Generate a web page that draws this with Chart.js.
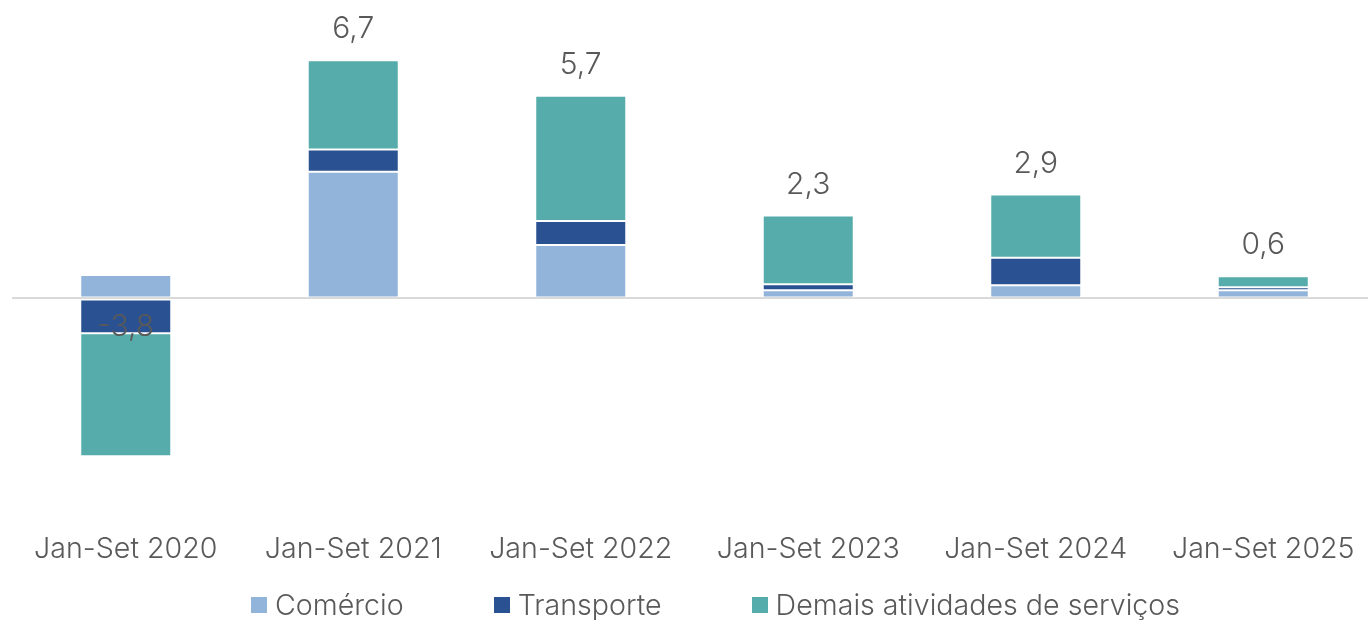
<!DOCTYPE html>
<html lang="pt">
<head>
<meta charset="utf-8">
<script src="https://cdn.jsdelivr.net/npm/chart.js@4.4.1/dist/chart.umd.min.js"></script>
<style>
    html, body { margin: 0; padding: 0; background: #fff; overflow: hidden; }
    body { width: 1368px; height: 620px; position: relative; font-family: Inter, "Noto Sans", sans-serif; }
    #wrap { position: absolute; left: 0; top: 0; width: 1377px; height: 588px; }
    #legend { position: absolute; left: 251px; top: 588px; display: flex; align-items: center; color: #595959; font-size: 28.6px; font-weight: 300; line-height: 34px; }
    .item { display: flex; align-items: center; margin-right: 90px; }
    .item:last-child { margin-right: 0; }
    .box { width: 16px; height: 16px; margin-right: 8px; }
</style>
</head>
<body>
<div id="wrap"><canvas id="chart"></canvas></div>
<div id="legend"></div>
<script>
// Dados (variação, p.p.)
const categories = ['Jan-Set 2020', 'Jan-Set 2021', 'Jan-Set 2022', 'Jan-Set 2023', 'Jan-Set 2024', 'Jan-Set 2025'];
const comercio = [0.66, 3.56, 1.50, 0.23, 0.37, 0.23];
const transporte = [-0.98, 0.63, 0.68, 0.17, 0.77, 0.08];
const demais = [-3.46, 2.51, 3.52, 1.93, 1.78, 0.31];

const seriesNames = ['Comércio', 'Transporte', 'Demais atividades de serviços'];
const seriesColors = ['#93b4da', '#2a5192', '#55acaa'];
const textColor = '#595959';
const fontFamily = 'Inter, "Noto Sans", sans-serif';

// Total labels above each stack
const totalsPlugin = {
    id: 'totals',
    afterDatasetsDraw(chart) {
        const ctx = chart.ctx;
        const y = chart.scales.y;
        ctx.save();
        ctx.font = '300 30px ' + fontFamily;
        ctx.fillStyle = textColor;
        ctx.textAlign = 'center';
        ctx.textBaseline = 'alphabetic';
        categories.forEach((c, i) => {
            const total = comercio[i] + transporte[i] + demais[i];
            const bar = chart.getDatasetMeta(0).data[i];
            let top = y.getPixelForValue(0);
            chart.data.datasets.forEach((ds, d) => {
                const el = chart.getDatasetMeta(d).data[i];
                top = Math.min(top, el.y, el.base);
            });
            const txt = total.toFixed(1).replace('.', ',');
            if (total >= 0) {
                ctx.fillText(txt, bar.x, top - 22);
            } else {
                ctx.fillText(txt, bar.x, y.getPixelForValue(0) + 38);
            }
        });
        ctx.restore();
    }
};

const ctx = document.getElementById('chart').getContext('2d');
new Chart(ctx, {
    type: 'bar',
    data: {
        labels: categories,
        datasets: [comercio, transporte, demais].map((d, k) => ({
            label: seriesNames[k],
            data: d,
            backgroundColor: seriesColors[k],
            borderColor: 'rgba(255,255,255,0.35)',
            borderWidth: 1,
            borderSkipped: false,
            barPercentage: 0.4,
            categoryPercentage: 1
        }))
    },
    options: {
        responsive: true,
        maintainAspectRatio: false,
        animation: false,
        layout: { padding: { left: 12, top: 14, right: 0, bottom: 0 } },
        plugins: {
            legend: { display: false },
            tooltip: { enabled: false }
        },
        scales: {
            x: {
                stacked: true,
                grid: { display: false, drawTicks: false },
                border: { display: false },
                ticks: { color: textColor, padding: 21, font: { family: fontFamily, size: 28.6, weight: 300 } }
            },
            y: {
                stacked: true,
                min: -6,
                max: 8,
                grid: {
                    drawTicks: false,
                    color: c => c.tick && c.tick.value === 0 ? '#d9d9d9' : 'transparent',
                    lineWidth: 2
                },
                border: { display: false },
                ticks: { display: false, stepSize: 1 }
            }
        }
    },
    plugins: [totalsPlugin]
});

// Legend
const legend = document.getElementById('legend');
seriesNames.forEach((name, k) => {
    const item = document.createElement('div');
    item.className = 'item';
    item.innerHTML = `<span class="box" style="background:${seriesColors[k]}"></span><span>${name}</span>`;
    legend.appendChild(item);
});
</script>
</body>
</html>
